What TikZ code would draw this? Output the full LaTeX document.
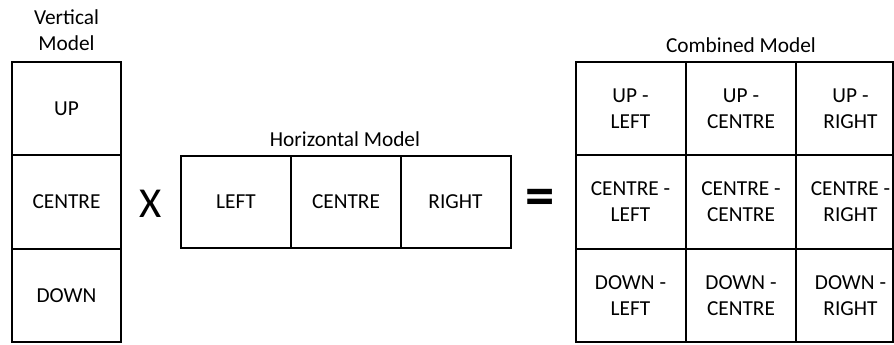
\documentclass[tikz,border=0pt]{standalone}
\usepackage{fontspec}
\setmainfont{Carlito}
\begin{document}
\begin{tikzpicture}[x=0.75pt,y=-0.75pt,
  cell/.style={draw=black,line width=1.5pt,inner sep=0pt,align=center,
    font=\fontsize{16pt}{19.5pt}\selectfont},
  vcell/.style={cell,minimum width=81.75pt,minimum height=70pt},
  hcell/.style={cell,minimum width=82.5pt,minimum height=69pt},
  ccell/.style={cell,minimum width=82.5pt,minimum height=70pt},
  rcell/.style={cell,minimum width=72.75pt,minimum height=70pt},
  title/.style={align=center,inner sep=0pt,font=\fontsize{16pt}{19.5pt}\selectfont},
  op/.style={inner sep=0pt}]
\useasboundingbox (0,0) rectangle (894,344);
% Vertical model
\node[title] (vt) at (66.5,30) {Vertical\\Model};
\node[vcell] (vu) at (66.5,108.5) {UP};
\node[vcell] (vc) at (66.5,202) {CENTRE};
\node[vcell] (vd) at (66.5,295.5) {DOWN};
% operator X
\node[op,font=\fontsize{32pt}{36pt}\selectfont] (times) at (151,204) {X};
% Horizontal model
\node[title] (ht) at (345,139) {Horizontal Model};
\node[hcell] (hl) at (236,202) {LEFT};
\node[hcell] (hc) at (346,202) {CENTRE};
\node[hcell] (hr) at (455.5,202) {RIGHT};
% operator =
\node[op,font=\fontsize{44pt}{48pt}\selectfont\bfseries] (eq) at (540,202.5) {=};
% Combined model
\node[title] (ct) at (741,45) {Combined Model};
\node[ccell] (ul) at (630.5,108.5) {UP -\\LEFT};
\node[ccell] (uc) at (741,108.5) {UP -\\CENTRE};
\node[rcell,label={[title,xshift=4.5pt]center:UP -\\RIGHT}] (ur) at (844.5,108.5) {};
\node[ccell] (cl) at (630.5,202) {CENTRE -\\LEFT};
\node[ccell] (cc) at (741,202) {CENTRE -\\CENTRE};
\node[rcell,label={[title,xshift=4.5pt]center:CENTRE -\\RIGHT}] (cr) at (844.5,202) {};
\node[ccell] (dl) at (630.5,295.5) {DOWN -\\LEFT};
\node[ccell] (dc) at (741,295.5) {DOWN -\\CENTRE};
\node[rcell,label={[title,xshift=4.5pt]center:DOWN -\\RIGHT}] (dr) at (844.5,295.5) {};
\end{tikzpicture}
\end{document}
